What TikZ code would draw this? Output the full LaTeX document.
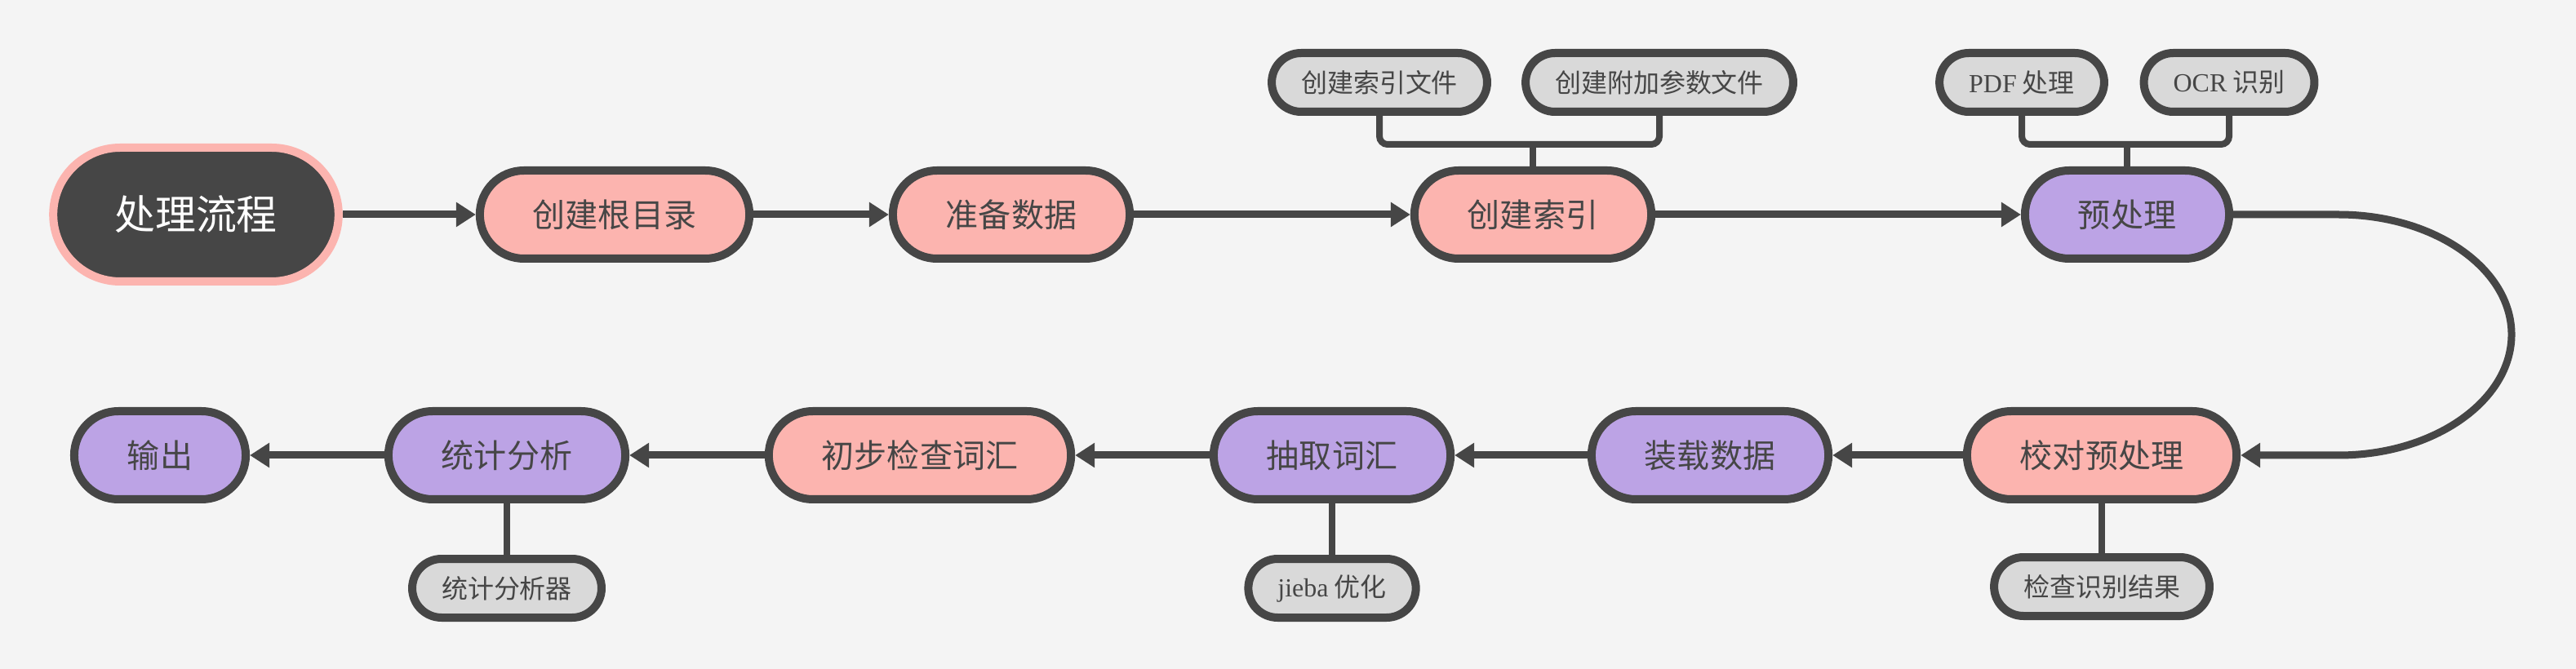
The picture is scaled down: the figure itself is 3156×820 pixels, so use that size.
\documentclass[tikz,border=0pt]{standalone}
\usepackage{fontspec}
\setmainfont{Noto Sans CJK SC}
\newfontfamily\latin{Liberation Serif}
\usetikzlibrary{arrows.meta}
\definecolor{bgcol}{HTML}{F4F4F4}
\definecolor{edgecol}{HTML}{464646}
\definecolor{pinkcol}{HTML}{FCB4AF}
\definecolor{lilaccol}{HTML}{BCA3E5}
\definecolor{greycol}{HTML}{D9D9D9}
\begin{document}
\begin{tikzpicture}[x=0.1mm, y=-0.1mm,
	stage/.style={draw=edgecol, line width=1mm, rounded corners=5.4mm, minimum height=10.8mm, inner xsep=6.5mm, inner ysep=0pt, text=edgecol, font=\fontsize{11.4pt}{13pt}\selectfont},
	pinkstage/.style={stage, fill=pinkcol},
	lilacstage/.style={stage, fill=lilaccol},
	tool/.style={draw=edgecol, line width=1mm, rounded corners=3.6mm, minimum height=7.2mm, inner xsep=3.6mm, inner ysep=0pt, fill=greycol, text=edgecol, font=\fontsize{9.1pt}{11pt}\selectfont},
	flow/.style={draw=edgecol, line width=0.9mm, -{Triangle[length=2.4mm, width=2.9mm]}},
	link/.style={draw=edgecol, line width=0.8mm, rounded corners=1mm}]
			\fill[bgcol] (0,0) rectangle (3156,820);
			% main line
			\node[draw=pinkcol, fill=edgecol, line width=1mm, rounded corners=8.2mm, minimum height=16.4mm, inner xsep=7.5mm, inner ysep=0pt, text=white, font=\fontsize{14.2pt}{16pt}\selectfont] (P0) at (240,263) {处理流程};
			\node[pinkstage] (P1) at (753,263) {创建根目录};
			\node[pinkstage] (P2) at (1239,263) {准备数据};
			\node[pinkstage] (P3) at (1878,263) {创建索引};
			\node[lilacstage] (P4) at (2606,263) {预处理};
			\node[pinkstage] (P5) at (2575,558) {校对预处理};
			\node[lilacstage] (P6) at (2095,558) {装载数据};
			\node[lilacstage] (P7) at (1632,558) {抽取词汇};
			\node[pinkstage] (P8) at (1127,558) {初步检查词汇};
			\node[lilacstage] (P9) at (621,558) {统计分析};
			\node[lilacstage] (P10) at (196,558) {输出};
			% tools
			\node[tool] (S1) at (1690,101) {创建索引文件};
			\node[tool] (S2) at (2033,101) {创建附加参数文件};
			\node[tool] (S3) at (2477,101) {{\latin PDF} 处理};
			\node[tool] (S4) at (2731,101) {{\latin OCR} 识别};
			\node[tool] (S5) at (2575,719) {检查识别结果};
			\node[tool] (S6) at (1632,721) {{\latin jieba} 优化};
			\node[tool] (S7) at (621,721) {统计分析器};
			\coordinate (J1) at (1878,177);
			\coordinate (J2) at (2606,177);
			\draw[flow] (P0) to (P1);
			\draw[flow] (P1) to (P2);
			\draw[flow] (P2) to (P3);
			\draw[flow] (P3) to (P4);
			\draw[flow] (P4.east) -- (2865,263) .. controls (2982,263) and (3077,329) .. (3077,410) .. controls (3077,491) and (2982,558) .. (2865,558) -- (P5.east);
			\draw[flow] (P5) to (P6);
			\draw[flow] (P6) to (P7);
			\draw[flow] (P7) to (P8);
			\draw[flow] (P8) to (P9);
			\draw[flow] (P9) to (P10);
			\draw[link] (S1.south) |- (J1) -| (S2.south);
			\draw[link] (J1) -- (P3.north);
			\draw[link] (S3.south) |- (J2) -| (S4.south);
			\draw[link] (J2) -- (P4.north);
			\draw[link] (P5.south) -- (S5.north);
			\draw[link] (P7.south) -- (S6.north);
			\draw[link] (P9.south) -- (S7.north);
		\end{tikzpicture}
\end{document}
